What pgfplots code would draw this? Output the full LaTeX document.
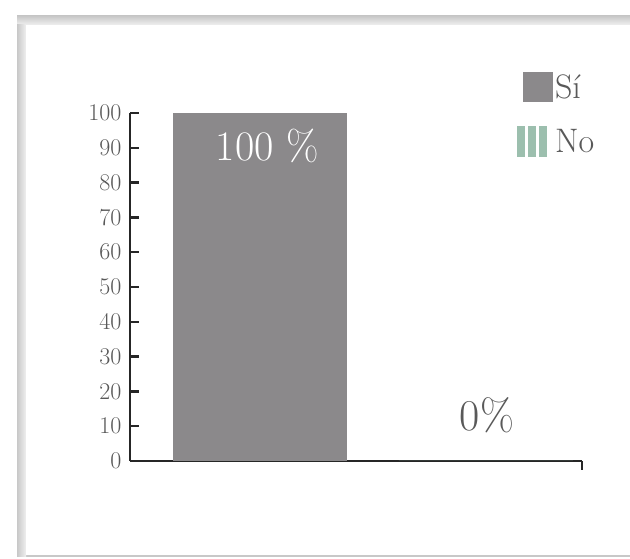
\documentclass[border=0pt]{standalone}
\usepackage{pgfplots}
\pgfplotsset{compat=1.18}

\definecolor{barGray}{HTML}{8B898B}
\definecolor{noGreen}{HTML}{9CBFAE}
\definecolor{txtGray}{HTML}{595959}
\definecolor{axisDark}{HTML}{262626}
\definecolor{frameGray}{HTML}{C8C8C8}

\begin{document}
\begin{tikzpicture}
% page area and frame
\useasboundingbox (0pt,0pt) rectangle (630pt,559pt);
\clip (0pt,0pt) rectangle (630pt,559pt);
\fill[white] (0pt,0pt) rectangle (630pt,559pt);
\fill[frameGray] (17pt,2pt) rectangle (650pt,543pt);
\shade[top color=frameGray, bottom color=gray!12] (17pt,534pt) rectangle (650pt,543pt);
\shade[left color=frameGray, right color=gray!12] (17pt,2pt) rectangle (26pt,534pt);
\fill[white] (26pt,4pt) rectangle (650pt,534pt);

\begin{axis}[
  at={(130pt,98pt)}, anchor=south west,
  scale only axis, width=452pt, height=348pt,
  xmin=0, xmax=2, ymin=0, ymax=100,
  enlargelimits=false, clip=false,
  axis x line*=bottom, axis y line*=left,
  axis line style={axisDark, line width=2.5pt},
  ytick={0,10,...,100},
  ytick align=inside,
  xtick={2}, xticklabels={}, xtick align=inside,
  major tick length=9pt,
  every tick/.style={axisDark, line width=2.5pt},
  /pgf/number format/assume math mode=true,
  yticklabel style={font=\fontsize{24pt}{28pt}\selectfont, text=txtGray,
    xshift=-5pt},
  ybar, bar width=174pt, bar shift=0pt,
  legend style={at={(rel axis cs:0.856,1.118)}, anchor=north west,
    draw=none, fill=none, font=\fontsize{34pt}{40pt}\selectfont,
    text=txtGray, row sep=24pt, inner sep=0pt,
    nodes={inner sep=2pt}},
  legend cell align=left,
]
\addplot[fill=barGray, draw=none,
  legend image code/.code={\fill[barGray] (0pt,-15pt) rectangle (30pt,15pt);}]
  coordinates {(0.575,100)};
\addlegendentry{Sí}
\addplot[fill=noGreen, draw=none,
  legend image code/.code={%
    \fill[noGreen] (-6pt,-15pt) rectangle (2pt,16pt);
    \fill[noGreen] (5pt,-15pt) rectangle (13pt,16pt);
    \fill[noGreen] (16pt,-15pt) rectangle (24pt,16pt);}]
  coordinates {(1.575,0)};
\addlegendentry{No}

\node[text=white, font=\fontsize{42pt}{48pt}\selectfont]
  at (axis cs:0.608,90.5) {100 \%};
\node[text=txtGray, font=\fontsize{44pt}{50pt}\selectfont]
  at (axis cs:1.58,13.2) {0\%};
\end{axis}
\end{tikzpicture}
\end{document}
